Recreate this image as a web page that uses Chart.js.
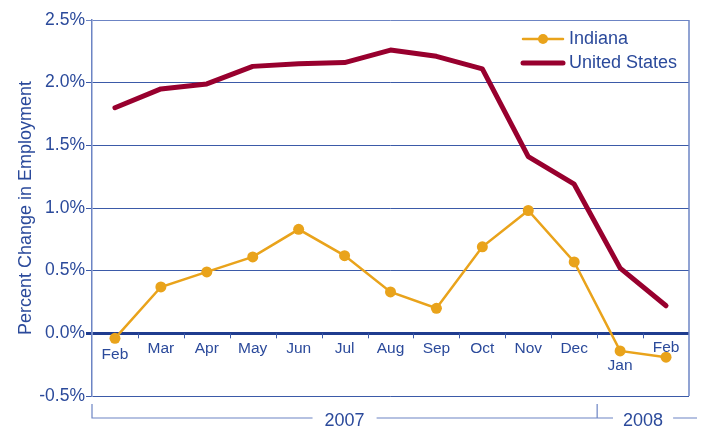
<!DOCTYPE html>
<html>
<head>
<meta charset="utf-8">
<script src="https://cdn.jsdelivr.net/npm/chart.js@4.4.0/dist/chart.umd.min.js"></script>
<style>
  html, body { margin: 0; padding: 0; background: #fff; }
  #wrap { width: 705px; height: 429px; }
</style>
</head>
<body>
<div id="wrap"><canvas id="chart" width="705" height="429"></canvas></div>
<script>
const months = ["Feb", "Mar", "Apr", "May", "Jun", "Jul", "Aug", "Sep", "Oct", "Nov", "Dec", "Jan", "Feb"];
const years = ["2007", "2008"];
const indiana = [-0.04, 0.37, 0.49, 0.61, 0.83, 0.62, 0.33, 0.20, 0.69, 0.98, 0.57, -0.14, -0.19];
const unitedStates = [1.80, 1.95, 1.99, 2.13, 2.15, 2.16, 2.26, 2.21, 2.11, 1.41, 1.19, 0.52, 0.22];

const BLUE = "#2b4a9b";
const GRID = "#3b5aa8";
const FRAME = "#6c84c4";
const FONT = "'Liberation Sans', Arial, sans-serif";

// month labels sit under the zero line, nudged away from the points
const labelShift = [21, 15, 15, 15, 15, 15, 15, 15, 15, 15, 15, 32, 14];

const extras = {
  id: "extras",
  afterDraw(chart) {
    const { ctx, chartArea: a } = chart;
    const x = chart.scales.x, y = chart.scales.y;
    const y0 = y.getPixelForValue(0);
    const half = (x.getPixelForValue(1) - x.getPixelForValue(0)) / 2;
    ctx.save();

    // right frame
    ctx.strokeStyle = FRAME;
    ctx.lineWidth = 1.5;
    ctx.beginPath();
    ctx.moveTo(a.right, a.top);
    ctx.lineTo(a.right, a.bottom);
    ctx.stroke();

    // small ticks on the zero line
    ctx.strokeStyle = GRID;
    ctx.lineWidth = 1;
    for (let i = 1; i < months.length; i++) {
      const xb = Math.round(x.getPixelForValue(i) - half) + 0.5;
      ctx.beginPath();
      ctx.moveTo(xb, y0);
      ctx.lineTo(xb, y0 + 5);
      ctx.stroke();
    }

    // month labels
    ctx.fillStyle = BLUE;
    ctx.font = "15.5px " + FONT;
    ctx.textAlign = "center";
    ctx.textBaseline = "middle";
    months.forEach((m, i) => {
      ctx.fillText(m, x.getPixelForValue(i), y0 + labelShift[i]);
    });

    // year bracket
    const by = 418, bt = 404;
    const split = x.getPixelForValue(11) - half;
    const endX = 697;
    ctx.font = "18px " + FONT;
    const w07 = ctx.measureText(years[0]).width + 24;
    const w08 = ctx.measureText(years[1]).width + 20;
    const c07 = (a.left + split) / 2;
    const c08 = (split + a.right) / 2;
    ctx.strokeStyle = FRAME;
    ctx.lineWidth = 1.2;
    ctx.beginPath();
    ctx.moveTo(a.left, bt); ctx.lineTo(a.left, by);
    ctx.lineTo(c07 - w07 / 2, by);
    ctx.moveTo(c07 + w07 / 2, by); ctx.lineTo(c08 - w08 / 2, by);
    ctx.moveTo(split, bt); ctx.lineTo(split, by);
    ctx.moveTo(c08 + w08 / 2, by); ctx.lineTo(endX, by);
    ctx.stroke();
    ctx.fillStyle = BLUE;
    ctx.fillText(years[0], c07, by + 3);
    ctx.fillText(years[1], c08, by + 3);

    // legend
    const lx = 523, lw = 40, ly1 = 39, ly2 = 63;
    ctx.lineCap = "round";
    ctx.strokeStyle = "#e9a31b";
    ctx.lineWidth = 2.5;
    ctx.beginPath(); ctx.moveTo(lx, ly1); ctx.lineTo(lx + lw, ly1); ctx.stroke();
    ctx.fillStyle = "#e9a31b";
    ctx.beginPath(); ctx.arc(lx + lw / 2, ly1, 5, 0, Math.PI * 2); ctx.fill();
    ctx.strokeStyle = "#98002e";
    ctx.lineWidth = 5;
    ctx.beginPath(); ctx.moveTo(lx, ly2); ctx.lineTo(lx + lw, ly2); ctx.stroke();
    ctx.fillStyle = BLUE;
    ctx.font = "18px " + FONT;
    ctx.textAlign = "left";
    ctx.fillText("Indiana", 569, ly1);
    ctx.fillText("United States", 569, ly2);
    ctx.restore();
  }
};

new Chart(document.getElementById("chart"), {
  type: "line",
  data: {
    labels: months,
    datasets: [
      {
        label: "United States",
        data: unitedStates,
        borderColor: "#98002e",
        borderWidth: 5,
        pointRadius: 0,
        borderCapStyle: "round",
        borderJoinStyle: "round",
        tension: 0
      },
      {
        label: "Indiana",
        data: indiana,
        borderColor: "#e9a31b",
        backgroundColor: "#e9a31b",
        borderWidth: 2.5,
        pointRadius: 5.5,
        pointBorderWidth: 0,
        tension: 0
      }
    ]
  },
  options: {
    responsive: false,
    animation: false,
    layout: { padding: { top: 20, right: 16, bottom: 33, left: 0 } },
    plugins: { legend: { display: false }, tooltip: { enabled: false } },
    scales: {
      x: { display: false, offset: true },
      y: {
        min: -0.5,
        max: 2.5,
        afterFit: s => { s.width = 92; },
        ticks: {
          stepSize: 0.5,
          color: BLUE,
          font: { family: FONT, size: 17.5 },
          padding: 1,
          callback: v => v.toFixed(1) + "%"
        },
        grid: {
          color: ctx => ctx.tick && ctx.tick.value === 0 ? "#1f3c8f" : (ctx.tick && ctx.tick.value === 2.5 ? FRAME : GRID),
          lineWidth: ctx => ctx.tick && ctx.tick.value === 0 ? 3 : 1,
          tickLength: 6
        },
        border: { color: FRAME, width: 1.5 },
        title: {
          display: true,
          text: "Percent Change in Employment",
          color: BLUE,
          font: { family: FONT, size: 18 },
          padding: { top: 15, bottom: 0 }
        }
      }
    }
  },
  plugins: [extras]
});
</script>
</body>
</html>
